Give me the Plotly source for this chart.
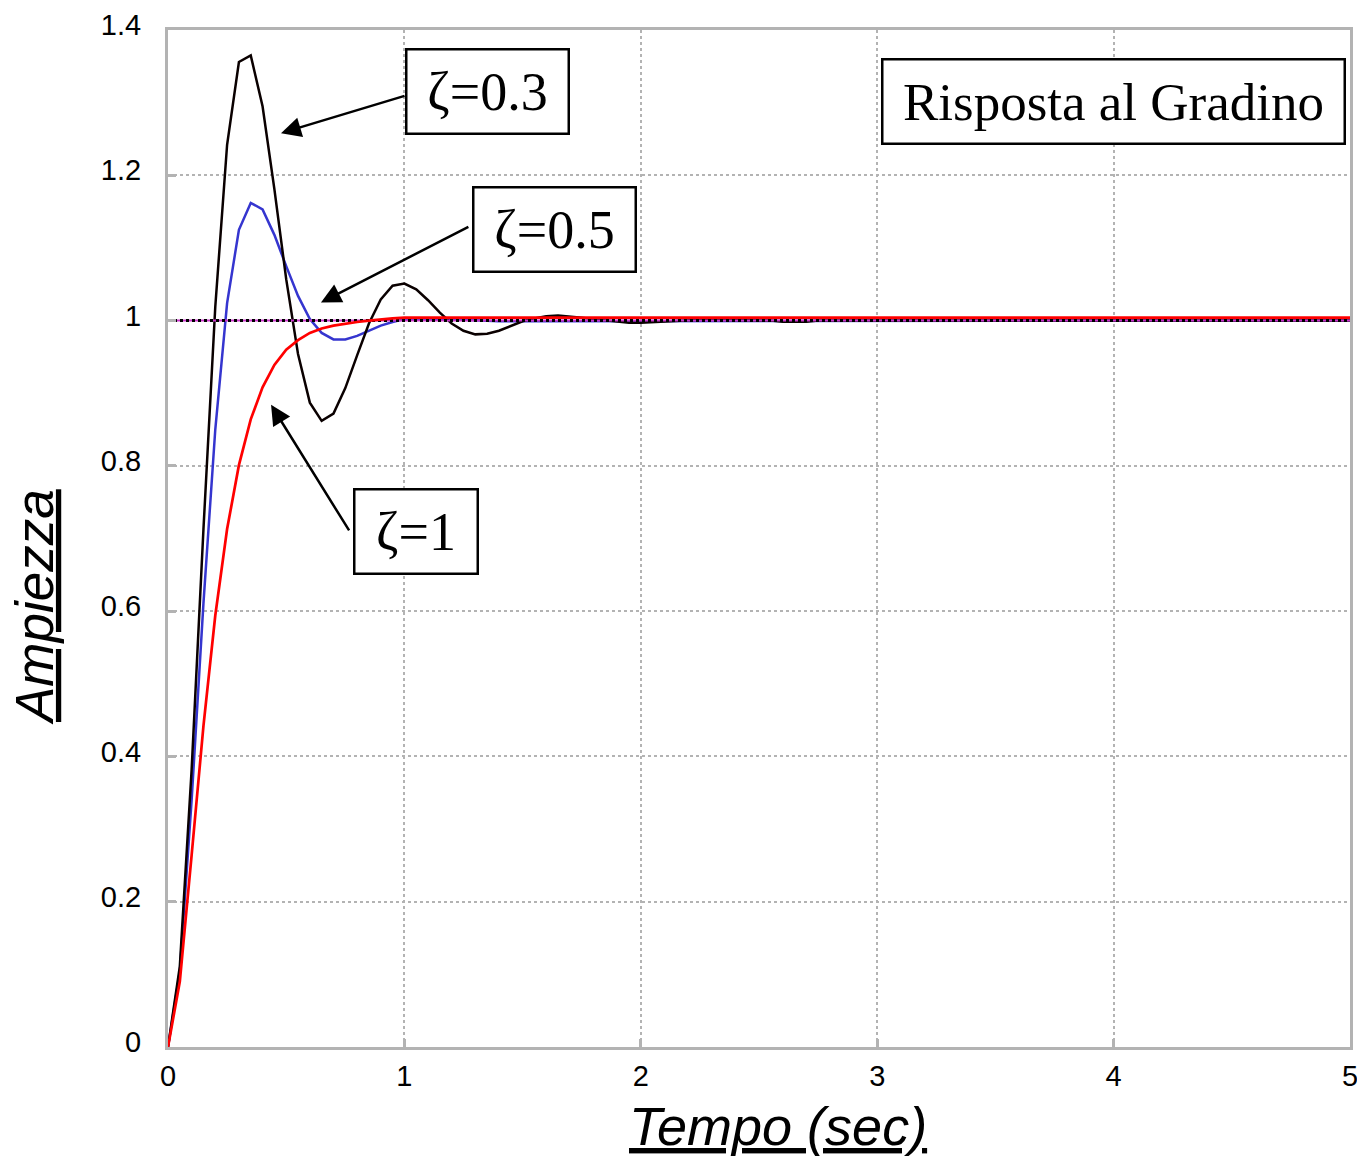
import plotly.graph_objects as go

# time samples (s)
t = [0.00, 0.05, 0.10, 0.15, 0.20, 0.25, 0.30, 0.35, 0.40, 0.45,
     0.50, 0.55, 0.60, 0.65, 0.70, 0.75, 0.80, 0.85, 0.90, 0.95,
     1.00, 1.05, 1.10, 1.15, 1.20, 1.25, 1.30, 1.35, 1.40, 1.45,
     1.50, 1.55, 1.60, 1.65, 1.70, 1.75, 1.80, 1.85, 1.90, 1.95,
     2.00, 2.05, 2.10, 2.15, 2.20, 2.25, 2.30, 2.35, 2.40, 2.45,
     2.50, 2.55, 2.60, 2.65, 2.70, 2.75, 2.80, 2.85, 2.90, 2.95,
     3.00, 3.50, 4.00, 4.50, 5.00]

# zeta = 0.3 (black)
y_z03 = [0.000, 0.111, 0.382, 0.713, 1.019, 1.242, 1.356, 1.365, 1.295, 1.181,
         1.057, 0.954, 0.887, 0.862, 0.872, 0.907, 0.952, 0.996, 1.029, 1.048,
         1.051, 1.043, 1.028, 1.011, 0.996, 0.986, 0.981, 0.982, 0.986, 0.992,
         0.999, 1.003, 1.006, 1.007, 1.006, 1.004, 1.002, 1.000, 0.998, 0.997,
         0.997, 0.998, 0.999, 1.000, 1.000, 1.001, 1.001, 1.001, 1.001, 1.000,
         1.000, 1.000, 0.9985, 0.9985, 0.9985, 1.000, 1.000, 1.000, 1.000, 1.000,
         1.000, 1.000, 1.000, 1.000, 1.000]

# zeta = 0.5 (blue)
y_z05 = [0.000, 0.104, 0.340, 0.611, 0.850, 1.024, 1.125, 1.162, 1.153, 1.118,
         1.075, 1.034, 1.002, 0.983, 0.974, 0.974, 0.979, 0.986, 0.993, 0.998,
         1.002, 1.003, 1.003, 1.003, 1.002, 1.001, 1.000, 1.000, 0.999, 0.999,
         0.999, 1.000, 1.000, 1.000, 1.000, 1.000, 1.000, 1.000, 1.000, 1.000,
         1.000, 1.000, 1.000, 1.000, 1.000, 1.000, 1.000, 1.000, 1.000, 1.000,
         1.000, 1.000, 1.000, 1.000, 1.000, 1.000, 1.000, 1.000, 1.000, 1.000,
         1.000, 1.000, 1.000, 1.000, 1.000]

# zeta = 1 (red)
y_z1 = [0.000, 0.090, 0.264, 0.442, 0.594, 0.713, 0.801, 0.864, 0.908, 0.939,
        0.960, 0.973, 0.983, 0.989, 0.993, 0.996, 0.998, 1.000, 1.002, 1.003,
        1.004, 1.004, 1.004, 1.004, 1.004, 1.004, 1.004, 1.004, 1.004, 1.004,
        1.004, 1.004, 1.004, 1.004, 1.004, 1.004, 1.004, 1.004, 1.004, 1.004,
        1.004, 1.004, 1.004, 1.004, 1.004, 1.004, 1.004, 1.004, 1.004, 1.004,
        1.004, 1.004, 1.004, 1.004, 1.004, 1.004, 1.004, 1.004, 1.004, 1.004,
        1.004, 1.004, 1.004, 1.004, 1.004]

# unit step reference
step_t = [0, 5]
step_y = [1, 1]

x_ticks = [0, 1, 2, 3, 4, 5]
y_ticks = [0, 0.2, 0.4, 0.6, 0.8, 1.0, 1.2, 1.4]
y_ticktext = ["0", "0.2", "0.4", "0.6", "0.8", "1", "1.2", "1.4"]

# labels: text, box centre (t, y), arrow head (t, y), arrow tail (t, y)
labels = ["ζ=0.3", "ζ=0.5", "ζ=1"]
label_pos = [(1.353, 1.316), (1.633, 1.126), (1.047, 0.7096)]
arrow_head = [(0.478, 1.258), (0.647, 1.025), (0.436, 0.884)]
arrow_tail = [(1.007, 1.310), (1.277, 1.130), (0.770, 0.709)]
box_w = [160, 160, 121]
title_text = "Risposta al Gradino"
title_pos = (4.001, 1.302)

SERIF = "Liberation Serif, Times New Roman, serif"
SANS = "Liberation Sans, Arial, sans-serif"

fig = go.Figure()
fig.add_trace(go.Scatter(x=t, y=y_z05, mode="lines",
                         line=dict(color="#3535cf", width=2.5)))
fig.add_trace(go.Scatter(x=t, y=y_z03, mode="lines",
                         line=dict(color="#0a0000", width=2.5)))
fig.add_trace(go.Scatter(x=step_t, y=step_y, mode="lines",
                         line=dict(color="#cc33cc", width=2)))
fig.add_trace(go.Scatter(x=step_t, y=step_y, mode="lines",
                         line=dict(color="#000000", width=3, dash="dot")))
fig.add_trace(go.Scatter(x=t, y=y_z1, mode="lines",
                         line=dict(color="#ff0000", width=2.7)))

annotations = []
for (hx, hy), (tx, ty) in zip(arrow_head, arrow_tail):
    annotations.append(dict(x=hx, y=hy, ax=tx, ay=ty, xref="x", yref="y",
                            axref="x", ayref="y", text="", showarrow=True,
                            arrowhead=2, arrowsize=1.6, arrowwidth=2.5,
                            arrowcolor="black"))
for txt, (cx, cy), w in zip(labels, label_pos, box_w):
    annotations.append(dict(x=cx, y=cy, xref="x", yref="y", text=txt,
                            showarrow=False, bgcolor="white",
                            bordercolor="black", borderwidth=2.5, borderpad=0,
                            width=w, height=82,
                            font=dict(family=SERIF, size=54, color="black")))
annotations.append(dict(x=title_pos[0], y=title_pos[1], xref="x", yref="y",
                        text=title_text, showarrow=False, bgcolor="white",
                        bordercolor="black", borderwidth=2.5, borderpad=0,
                        width=460, height=82,
                        font=dict(family=SERIF, size=53, color="black")))
# axis titles
annotations.append(dict(x=-0.1134, y=0.4326, xref="paper", yref="paper",
                        text="Ampiezza", textangle=-90, showarrow=False,
                        xanchor="center", yanchor="middle",
                        font=dict(family=SANS, size=53, style="italic",
                                  lineposition="under", color="black")))
annotations.append(dict(x=0.516, y=-0.1092, xref="paper", yref="paper",
                        text="Tempo (sec)", showarrow=False,
                        xanchor="center", yanchor="bottom",
                        font=dict(family=SANS, size=54, style="italic",
                                  lineposition="under", color="black")))

axis_common = dict(showline=True, linecolor="#b3b3b3", linewidth=3, mirror=True,
                   showgrid=True, gridcolor="#b3b3b3", griddash="dot", gridwidth=2,
                   ticks="inside", ticklen=8, tickwidth=3, tickcolor="#b3b3b3",
                   zeroline=False, automargin=False, ticklabeloverflow="allow",
                   tickfont=dict(family=SANS, size=29, color="black"))

fig.update_layout(
    width=1357, height=1156,
    margin=dict(l=168, r=7, t=30, b=109, autoexpand=False),
    plot_bgcolor="white", paper_bgcolor="white",
    showlegend=False,
    annotations=annotations,
    xaxis=dict(range=[0, 5], tickvals=x_ticks, ticklabelstandoff=1,
               **axis_common),
    yaxis=dict(range=[0, 1.4], tickvals=y_ticks, ticktext=y_ticktext,
               ticklabelstandoff=18, ticklabelshift=-5,
               **axis_common),
)

fig.write_html(
    "out.html",
    config={"responsive": False},
    post_script="document.documentElement.style.overflow='hidden';"
                "document.body.style.overflow='hidden';"
                "document.body.style.margin='0';",
)
